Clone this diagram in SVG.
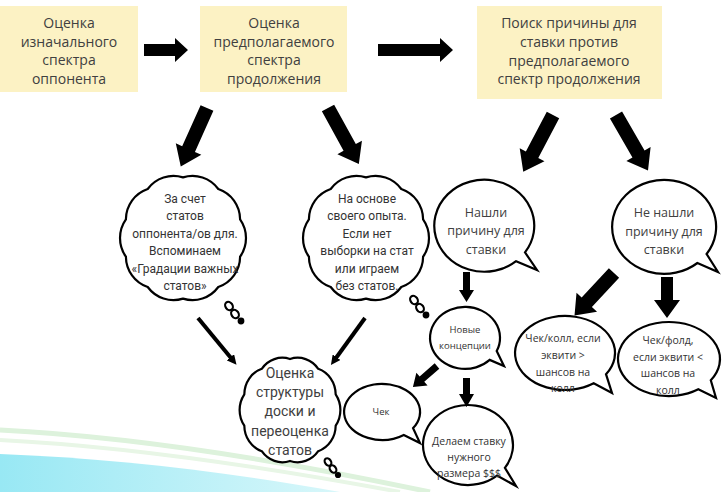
<svg xmlns="http://www.w3.org/2000/svg" width="723" height="492" viewBox="0 0 723 492">
<style>
  .box { fill: #FCF2C4; }
  .bt { font-family: "Open Sans", "Liberation Sans", sans-serif; font-size: 14px; fill: #404040; text-anchor: middle; }
  .ct { font-family: Roboto, "Liberation Sans", sans-serif; font-size: 12px; fill: #333; text-anchor: middle; }
  .ct3 { font-family: Roboto, "Liberation Sans", sans-serif; font-size: 14px; fill: #404040; text-anchor: middle; }
  .mt { font-family: "Open Sans", "Liberation Sans", sans-serif; font-size: 12.5px; fill: #404040; text-anchor: middle; }
  .st { font-family: "Open Sans", "Liberation Sans", sans-serif; font-size: 9.5px; fill: #333; text-anchor: middle; }
  .sm { font-family: "Open Sans", "Liberation Sans", sans-serif; font-size: 10.5px; fill: #333; text-anchor: middle; }
  .shape { fill: #fff; stroke: #000; stroke-width: 2.2; }
  .arr { fill: #000; }
  .thin { stroke: #000; stroke-width: 4; fill: none; }
</style>
<defs>
  <path id="cloudShape" vector-effect="non-scaling-stroke" d="M0,-60 A32,32 0 0 1 35.3,-48.5 A32,32 0 0 1 57.1,-18.5 A32,32 0 0 1 57.1,18.5 A32,32 0 0 1 35.3,48.5 A32,32 0 0 1 0,60 A32,32 0 0 1 -35.3,48.5 A32,32 0 0 1 -57.1,18.5 A32,32 0 0 1 -57.1,-18.5 A32,32 0 0 1 -35.3,-48.5 A32,32 0 0 1 0,-60 Z"/>
  <path id="bigArrow" d="M0,-7 L45,-7 L45,-14 L64,0 L45,14 L45,7 L0,7 Z"/>
  <marker id="tri" viewBox="0 0 10 10" refX="1" refY="5" markerWidth="2.4" markerHeight="2.4" orient="auto">
    <path d="M0,0 L10,5 L0,10 Z" fill="#000"/>
  </marker>
  <linearGradient id="sea" x1="0" y1="0" x2="1" y2="0">
    <stop offset="0" stop-color="#98E8F4"/>
    <stop offset="1" stop-color="#D8F7FA"/>
  </linearGradient>
</defs>

<rect width="723" height="492" fill="#fff"/>

<g id="background">
  <path d="M0,430 C120,436 270,458 430,492" fill="none" stroke="#DDF2DC" stroke-width="5"/>
  <path d="M0,440 C120,446 260,466 400,492" fill="none" stroke="#E8F6E6" stroke-width="4"/>
  <path d="M0,454 C110,458 230,472 340,492 L0,492 Z" fill="url(#sea)"/>
</g>

<g id="box1">
  <rect class="box" x="0" y="6" width="138" height="86"/>
  <text class="bt" x="69" y="28">Оценка</text>
  <text class="bt" x="69" y="47">изначального</text>
  <text class="bt" x="69" y="65">спектра</text>
  <text class="bt" x="69" y="84">оппонента</text>
</g>
<g id="box2">
  <rect class="box" x="200" y="6" width="147" height="86"/>
  <text class="bt" x="274" y="28">Оценка</text>
  <text class="bt" x="274" y="47">предполагаемого</text>
  <text class="bt" x="274" y="65">спектра</text>
  <text class="bt" x="274" y="84">продолжения</text>
</g>
<g id="box3">
  <rect class="box" x="477" y="6" width="185" height="93"/>
  <text class="bt" x="569" y="28">Поиск причины для</text>
  <text class="bt" x="569" y="47">ставки против</text>
  <text class="bt" x="569" y="66">предполагаемого</text>
  <text class="bt" x="569" y="84">спектр продолжения</text>
</g>

<g id="cloud1">
  <use href="#cloudShape" class="shape" transform="translate(183,238) scale(1,1.01)"/>
  <text class="ct" x="185" y="203">За счет</text>
  <text class="ct" x="185" y="220">статов</text>
  <text class="ct" x="185" y="238">оппонента/ов для.</text>
  <text class="ct" x="185" y="255">Вспоминаем</text>
  <text class="ct" x="185" y="273">«Градации важных</text>
  <text class="ct" x="185" y="290">статов»</text>
  <g class="shape" stroke-width="2">
    <ellipse cx="229" cy="306" rx="3.5" ry="4.5" transform="rotate(-35 229 306)"/>
    <ellipse cx="235" cy="314" rx="3.5" ry="4.5" transform="rotate(-35 235 314)"/>
    <circle cx="241" cy="321" r="2.3" fill="#000"/>
  </g>
</g>

<g id="cloud2">
  <use href="#cloudShape" class="shape" transform="translate(366,238) scale(1,1.01)"/>
  <text class="ct" x="367" y="203">На основе</text>
  <text class="ct" x="367" y="220">своего опыта.</text>
  <text class="ct" x="367" y="238">Если нет</text>
  <text class="ct" x="367" y="255">выборки на стат</text>
  <text class="ct" x="367" y="273">или играем</text>
  <text class="ct" x="367" y="290">без статов.</text>
  <g class="shape" stroke-width="2">
    <ellipse cx="414" cy="300" rx="3.5" ry="4.5" transform="rotate(-35 414 300)"/>
    <ellipse cx="420" cy="308" rx="3.5" ry="4.5" transform="rotate(-35 420 308)"/>
    <circle cx="426" cy="315" r="2.3" fill="#000"/>
  </g>
</g>

<g id="cloud3">
  <use href="#cloudShape" class="shape" transform="translate(290,410) scale(0.8,0.85)"/>
  <text class="ct3" x="290" y="378">Оценка</text>
  <text class="ct3" x="290" y="397">структуры</text>
  <text class="ct3" x="290" y="416">доски и</text>
  <text class="ct3" x="290" y="436">переоценка</text>
  <text class="ct3" x="290" y="455">статов</text>
  <g class="shape" stroke-width="2">
    <ellipse cx="328" cy="462" rx="3" ry="4" transform="rotate(-35 328 462)"/>
    <ellipse cx="333" cy="469" rx="3" ry="4" transform="rotate(-35 333 469)"/>
    <circle cx="338" cy="475" r="2" fill="#000"/>
  </g>
</g>

<g id="found">
  <path class="shape" d="M516.1,261.2 A50,46 0 1 1 525,252.4 L537,270 Z"/>
  <text class="mt" x="486" y="217">Нашли</text>
  <text class="mt" x="486" y="235">причину для</text>
  <text class="mt" x="486" y="254">ставки</text>
</g>

<g id="notfound">
  <path class="shape" d="M697.4,263 A52,47 0 1 1 706.6,254 L718,272 Z"/>
  <text class="mt" x="664" y="217">Не нашли</text>
  <text class="mt" x="664" y="236">причину для</text>
  <text class="mt" x="664" y="254">ставки</text>
</g>

<g id="concepts">
  <path class="shape" d="M489.7,359.9 A35,31 0 1 1 496.7,351.1 L504,366 Z"/>
  <text class="st" x="465" y="333">Новые</text>
  <text class="st" x="465" y="349">концепции</text>
</g>

<g id="check">
  <path class="shape" d="M403.8,434.9 A38,28 0 1 1 413.1,428.1 L420,443 Z"/>
  <text class="st" x="381" y="415">Чек</text>
</g>

<g id="bet">
  <path class="shape" d="M497,475.6 A45,40 0 1 1 504.9,467.9 L516,486 Z"/>
  <text class="sm" x="469" y="445">Делаем ставку</text>
  <text class="sm" x="469" y="461">нужного</text>
  <text class="sm" x="469" y="477">размера $$$</text>
</g>

<g id="checkcall">
  <path class="shape" d="M593.7,383.3 A50,37 0 1 1 606,374.2 L612,393 Z"/>
  <text class="sm" x="563" y="342">Чек/колл, если</text>
  <text class="sm" x="563" y="359">эквити &gt;</text>
  <text class="sm" x="563" y="376">шансов на</text>
  <text class="sm" x="563" y="392">колл</text>
</g>

<g id="checkfold">
  <path class="shape" d="M698.3,389.3 A51,37 0 1 1 710.8,380.2 L716,398 Z"/>
  <text class="sm" x="668" y="344">Чек/фолд,</text>
  <text class="sm" x="668" y="361">если эквити &lt;</text>
  <text class="sm" x="668" y="377">шансов на</text>
  <text class="sm" x="668" y="394">колл</text>
</g>

<g id="connectors">
  <polygon class="arr" points="144,44 175,44 175,38 188,50 175,62 175,56 144,56"/>
  <polygon class="arr" points="378,44 440,44 440,38 453,50 440,62 440,56 378,56"/>
  <use href="#bigArrow" class="arr" transform="translate(207,108) rotate(114.2)"/>
  <use href="#bigArrow" class="arr" transform="translate(328,108) rotate(61.2)"/>
  <use href="#bigArrow" class="arr" transform="translate(553,115) rotate(117.7)"/>
  <use href="#bigArrow" class="arr" transform="translate(616,115) rotate(60)"/>
  <line class="thin" x1="198" y1="318" x2="231" y2="358" marker-end="url(#tri)"/>
  <line class="thin" x1="365" y1="318" x2="336" y2="358" marker-end="url(#tri)"/>
  <polygon class="arr" points="463,272 470,272 470,290 474,290 466.5,302 459,290 463,290"/>
  <polygon class="arr" points="463,378 470,378 470,394 474,394 466.5,407 459,394 463,394"/>
  <path class="arr" d="M0,-3.5 L20,-3.5 L20,-8.5 L32,0 L20,8.5 L20,3.5 L0,3.5 Z" transform="translate(437,366) rotate(138.8)"/>
  <path class="arr" d="M0,-7 L40,-7 L40,-14 L58,0 L40,14 L40,7 L0,7 Z" transform="translate(614,273) rotate(132.9)"/>
  <polygon class="arr" points="661,277 673,277 673,300 680,300 667,318 654,300 661,300"/>
</g>
</svg>
